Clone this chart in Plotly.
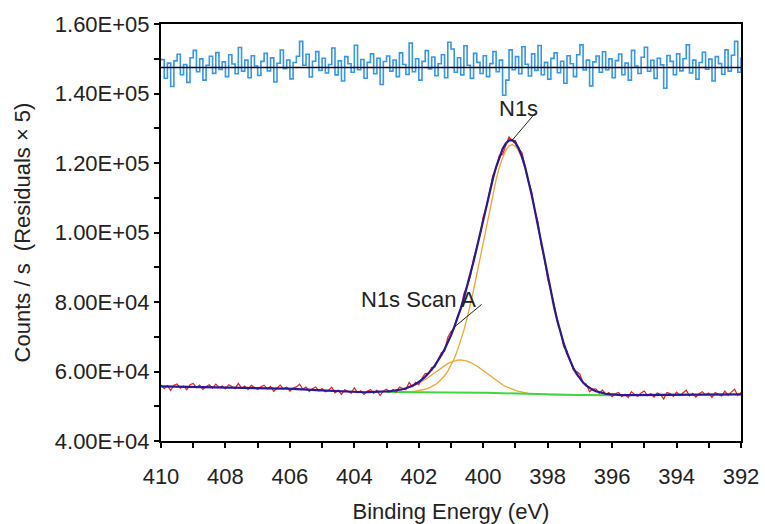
import numpy as np
import plotly.graph_objects as go

# ---- N 1s scan: binding-energy axis, 410.0 -> 392.0 eV in 0.1 eV steps ----
BE_START, BE_STEP, N_POINTS = 410.0, 0.1, 181
energy = np.round(BE_START - BE_STEP * np.arange(N_POINTS), 1)

# Fit region limits (eV)
REGION_HIGH, REGION_LOW = 403.0, 396.0

# Baseline of the spectrum on the high-BE side of the region (410.0 -> 403.1 eV)
baseline_high = [
    55700, 55690, 55680, 55670, 55660, 55650, 55640, 55630, 55620, 55610,
    55600, 55590, 55580, 55570, 55560, 55550, 55540, 55530, 55520, 55510,
    55500, 55480, 55460, 55440, 55420, 55400, 55380, 55360, 55340, 55320,
    55300, 55280, 55250, 55220, 55190, 55160, 55130, 55100, 55080, 55060,
    55040, 54980, 54920, 54870, 54820, 54780, 54740, 54700, 54650, 54600,
    54550, 54490, 54430, 54370, 54310, 54250, 54190, 54130, 54080, 54050,
    54030, 54020, 54020, 54030, 54040, 54050, 54060, 54070, 54080, 54090,
]

# Shirley background across the fit region (403.0 -> 396.0 eV)
shirley_bg = [
    54100, 54100, 54100, 54100, 54099, 54099, 54098, 54098, 54097, 54096,
    54095, 54093, 54091, 54089, 54086, 54082, 54078, 54073, 54067, 54060,
    54053, 54044, 54034, 54022, 54010, 53996, 53980, 53962, 53942, 53921,
    53897, 53871, 53843, 53813, 53781, 53748, 53714, 53678, 53642, 53605,
    53569, 53533, 53499, 53466, 53434, 53404, 53376, 53351, 53328, 53308,
    53289, 53274, 53260, 53249, 53239, 53231, 53224, 53219, 53214, 53211,
    53208, 53206, 53204, 53203, 53202, 53201, 53201, 53200, 53200, 53200,
    53200,
]

# Baseline on the low-BE side of the region (395.9 -> 392.0 eV)
baseline_low = [
    53200, 53200, 53205, 53210, 53215, 53220, 53225, 53230, 53235, 53240,
    53245, 53250, 53255, 53260, 53265, 53270, 53275, 53280, 53285, 53290,
    53295, 53300, 53305, 53310, 53315, 53320, 53325, 53330, 53335, 53340,
    53345, 53350, 53355, 53360, 53365, 53370, 53375, 53380, 53385, 53390,
]

# Component heights above the background, 403.0 -> 396.0 eV
# main N 1s line (399.1 eV)
comp_main = [
    6, 10, 15, 24, 37, 57, 86, 129, 190, 278,
    399, 567, 797, 1105, 1514, 2048, 2738, 3614, 4713, 6069,
    7722, 9704, 12043, 14765, 17878, 21382, 25261, 29477, 33973, 38676,
    43488, 48299, 52985, 57413, 61447, 64957, 67825, 69951, 71259, 71700,
    71259, 69951, 67825, 64957, 61447, 57413, 52985, 48299, 43488, 38676,
    33973, 29477, 25261, 21382, 17878, 14765, 12043, 9704, 7722, 6069,
    4713, 3614, 2738, 2048, 1514, 1105, 797, 567, 399, 278,
    190,
]
# high-BE shoulder (400.7 eV)
comp_shoulder = [
    149, 212, 297, 409, 554, 740, 973, 1259, 1603, 2011,
    2484, 3019, 3614, 4258, 4939, 5641, 6342, 7020, 7650, 8207,
    8669, 9014, 9228, 9300, 9228, 9014, 8669, 8207, 7650, 7020,
    6342, 5641, 4939, 4258, 3614, 3019, 2484, 2011, 1603, 1259,
    973, 740, 554, 409, 297, 212, 149, 103, 70, 47,
    31, 20, 13, 8, 5, 3, 2, 1, 1, 0,
    0, 0, 0, 0, 0, 0, 0, 0, 0, 0,
    0,
]

# Fit residuals (counts/s), one per data point
residuals = [
    450, -620, 250, -1100, 380, 760, -420, 170, -860, 560,
    980, -250, 490, -730, 130, 640, -340, 850, -110, 320,
    -530, 730, 200, -360, 1150, -210, 420, -590, 670, 80,
    -460, 350, 810, -200, 550, -840, 240, 1000, -70, 430,
    -660, 280, 640, 1500, 130, 760, -550, 360, 910, -170,
    530, -320, 170, 1120, -430, 380, -780, 620, 210, -280,
    1280, -130, 460, -620, 290, 780, -360, 530, -980, 340,
    660, -210, 430, -530, 840, 170, -410, 1400, -250, 500,
    -730, 350, 970, -80, 600, -480, 210, 730, -590, 1450,
    1060, -280, 560, -430, 1250, 130, -630, 810, 290, -350,
    670, -530, 220, 910, -250, 420, -1600, -730, 1010, -130,
    620, -360, 1190, 180, -490, 780, -170, 1260, -420, 290,
    -670, 520, 840, -310, 360, -910, 670, 210, -530, 730,
    1300, -150, 420, -1060, 320, 660, -280, 900, -130, 490,
    -590, 390, 770, -420, 250, -730, 980, 80, -350, 590,
    1160, -220, 410, -630, 530, 150, -1200, 690, 350, -420,
    780, -200, 500, 1300, -320, 420, -670, 280, 870, -100,
    480, -780, 620, 220, -390, 1010, -210, 700, 1500, -280,
    590,
]

RESID_OFFSET = 147500   # where the residual trace is parked on the y axis
RESID_SCALE = 5

# Axis ticks
x_ticks = list(range(410, 391, -1))
x_labels = [str(v) if v % 2 == 0 else "" for v in x_ticks]
y_ticks = list(range(40000, 160001, 10000))
y_labels = [f"{v:.2E}" if v % 20000 == 0 else "" for v in y_ticks]

# ---- assemble the fit ----
i_hi = int(np.where(energy == REGION_HIGH)[0][0])
i_lo = int(np.where(energy == REGION_LOW)[0][0])
region = slice(i_hi, i_lo + 1)
e_reg = energy[region]

background = np.array(baseline_high + shirley_bg + baseline_low, dtype=float)
c_main = np.zeros(N_POINTS)
c_main[region] = comp_main
c_sh = np.zeros(N_POINTS)
c_sh[region] = comp_shoulder
envelope = background + c_main + c_sh
counts = envelope + np.array(residuals, dtype=float)
bg_reg = np.array(shirley_bg, dtype=float)

FONT = "Liberation Sans, Arial, sans-serif"
TXT = "#222222"
FS = 22

fig = go.Figure()
fig.add_trace(go.Scatter(x=e_reg, y=bg_reg + np.array(comp_main), mode="lines",
                         line=dict(color="#f2a52a", width=1.3)))
fig.add_trace(go.Scatter(x=e_reg, y=bg_reg + np.array(comp_shoulder), mode="lines",
                         line=dict(color="#f2a52a", width=1.3)))
fig.add_trace(go.Scatter(x=e_reg, y=bg_reg, mode="lines",
                         line=dict(color="#3ed83e", width=2)))
fig.add_trace(go.Scatter(x=energy, y=counts, mode="lines",
                         line=dict(color="#e0241c", width=1.2)))
fig.add_trace(go.Scatter(x=energy, y=envelope, mode="lines",
                         line=dict(color="#2a1896", width=2.2)))
fig.add_trace(go.Scatter(x=energy, y=RESID_OFFSET + RESID_SCALE * np.array(residuals),
                         mode="lines", line_shape="hv",
                         line=dict(color="#3497f0", width=1.6)))
fig.add_trace(go.Scatter(x=energy[[0, -1]], y=[RESID_OFFSET, RESID_OFFSET], mode="lines",
                         line=dict(color="black", width=1.6)))

# Peak labels with leader lines
i_peak = int(np.argmax(envelope))
i_scan = int(np.where(energy == 400.9)[0][0])
fig.add_annotation(x=398.92, y=135800, text="N1s", showarrow=False,
                   font=dict(family=FONT, size=FS, color=TXT))
fig.add_shape(type="line", x0=398.39, y0=134300, x1=energy[i_peak], y1=envelope[i_peak],
              line=dict(color="#222222", width=1))
fig.add_annotation(x=402.0, y=80600, text="N1s Scan A", showarrow=False,
                   font=dict(family=FONT, size=FS, color=TXT))
fig.add_shape(type="line", x0=400.05, y0=79300, x1=energy[i_scan], y1=envelope[i_scan],
              line=dict(color="#222222", width=1))

axis_common = dict(showgrid=False, zeroline=False, tickcolor="black", tickwidth=1.5,
                   ticklen=5, automargin=False)
fig.update_layout(
    width=765, height=524,
    margin=dict(l=161, r=24, t=24, b=83),
    paper_bgcolor="white", plot_bgcolor="white",
    showlegend=False, hovermode=False,
    font=dict(family=FONT, color=TXT),
    xaxis=dict(range=[410, 392], tickmode="array", tickvals=x_ticks, ticktext=x_labels,
               ticks="outside", showline=True, linecolor="black", linewidth=2, mirror=True,
               tickfont=dict(size=FS, color=TXT), ticklabelstandoff=10,
               title=dict(text="Binding Energy (eV)", font=dict(size=FS, color=TXT), standoff=20),
               **axis_common),
    xaxis2=dict(range=[410, 392], overlaying="x", anchor="y", side="bottom",
                tickmode="array", tickvals=x_ticks, ticks="inside", showticklabels=False,
                showline=False, **axis_common),
    yaxis=dict(range=[40000, 160000], tickmode="array", tickvals=y_ticks, ticktext=y_labels,
               ticks="outside", showline=True, linecolor="black", linewidth=2, mirror=True,
               tickfont=dict(size=FS, color=TXT),
               title=dict(text="Counts / s  (Residuals \u00d7 5)", font=dict(size=FS, color=TXT),
                          standoff=18),
               **axis_common),
    yaxis2=dict(range=[40000, 160000], overlaying="y", anchor="x", side="left",
                tickmode="array", tickvals=y_ticks, ticks="inside", showticklabels=False,
                showline=False, **axis_common),
)

fig.write_html("out.html")
